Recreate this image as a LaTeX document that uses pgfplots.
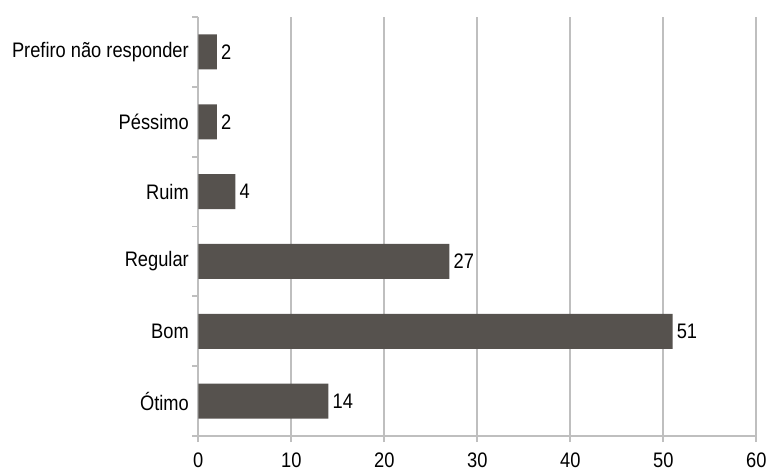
\documentclass[border=0pt]{standalone}
\usepackage{fontspec}
\setmainfont{Liberation Sans}[FakeStretch=0.87]
\usepackage{pgfplots}
\pgfplotsset{compat=1.18}
\definecolor{barc}{RGB}{86,82,78}
\definecolor{gridc}{RGB}{191,191,191}
\begin{document}
\begin{tikzpicture}
\useasboundingbox (-198.3pt,-35.3pt) rectangle (569.7pt,436pt);
\begin{axis}[
  at={(0pt,0pt)}, anchor=south west,
  scale only axis, width=558pt, height=419pt,
  xmin=0, xmax=60, ymin=-0.5, ymax=5.5,
  xbar, bar width=35pt,
  xtick={0,10,...,60},
  ytick={-0.5,0.5,1.5,2.5,3.5,4.5,5.5},
  yticklabels={},
  extra y ticks={0,1,2,3,4,5},
  extra y tick labels={Ótimo,Bom,Regular,Ruim,Péssimo,Prefiro não responder},
  extra y tick style={major tick length=0pt, yticklabel style={xshift=-6pt}},
  axis lines*=left,
  axis line style={gridc, line width=1.8pt},
  xmajorgrids, major grid style={gridc, line width=1.8pt},
  tick style={gridc, line width=1.8pt},
  tick align=outside,
  major tick length=6pt,
  /pgf/number format/assume math mode=true,
  every tick label/.append style={font=\fontsize{21}{25}\selectfont, text=black},
  xticklabel style={yshift=-7pt},
  nodes near coords,
  every node near coord/.append style={font=\fontsize{21}{25}\selectfont, text=black, inner sep=4pt},
]
\addplot[fill=barc, draw=none] coordinates {(14,0) (51,1) (27,2) (4,3) (2,4) (2,5)};
\end{axis}
\end{tikzpicture}
\end{document}
